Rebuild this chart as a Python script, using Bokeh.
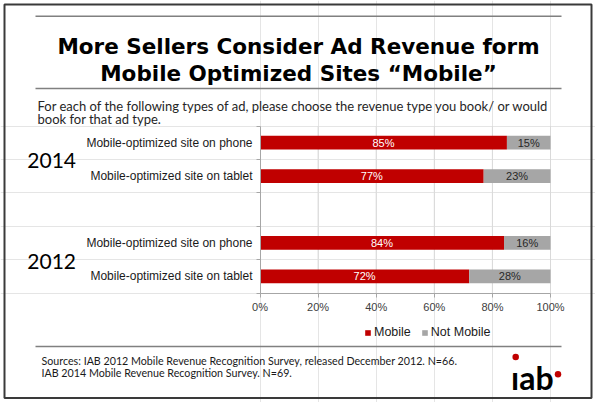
from bokeh.plotting import figure
from bokeh.models import (Range1d, LinearAxis, FixedTicker, PrintfTickFormatter,
                          CustomJSTickFormatter, Legend, LegendItem, ColumnDataSource)
from bokeh.core.properties import value
from bokeh.embed import file_html
from bokeh.resources import INLINE

# ---------------- data ----------------
title_lines = ["More Sellers Consider Ad Revenue form",
               "Mobile Optimized Sites \u201cMobile\u201d"]
subtitle_lines = ["For each of the following types of ad, please choose the revenue type you book/ or would",
                  "book for that ad type."]
years = ["2014", "2012"]
ad_types = ["Mobile-optimized site on phone", "Mobile-optimized site on tablet"]
mobile_2014 = [85, 77]
mobile_2012 = [84, 72]
not_mobile_2014 = [15, 23]
not_mobile_2012 = [16, 28]
x_ticks = [0, 20, 40, 60, 80, 100]
series_names = ["Mobile", "Not Mobile"]
source_lines = ["Sources:  IAB 2012 Mobile Revenue Recognition Survey, released December 2012.  N=66.",
                "IAB 2014 Mobile Revenue Recognition Survey.  N=69."]
logo_text = "\u0131ab"

# ---------------- layout (page pixels) ----------------
W, H = 595, 402
OFF = 0
X0_PX, X100_PX = 259.5, 550.0
Y0_PX, SLOT_PX = 125.5, 33.4
RED, GREY = "#C00000", "#A6A6A6"
px_per_pct = (X100_PX - X0_PX) / 100.0


def X(px):
    return (px - X0_PX) / px_per_pct


def Y(py):
    return (py - Y0_PX) / SLOT_PX


n_per = len(ad_types)
n_slots = len(years) * (n_per + 1) - 1

row_y, row_cat, mob, notm = [], [], [], []
mob_groups = [mobile_2014, mobile_2012]
not_groups = [not_mobile_2014, not_mobile_2012]
for g, yr in enumerate(years):
    for j, cat in enumerate(ad_types):
        row_y.append(g * (n_per + 1) + j + 0.5)
        row_cat.append(cat)
        mob.append(mob_groups[g][j])
        notm.append(not_groups[g][j])

src = ColumnDataSource(dict(
    y=row_y, cat=row_cat, mobile=mob, notm=notm,
    total=[m + n for m, n in zip(mob, notm)],
    mob_mid=[m / 2 for m in mob],
    not_mid=[m + n / 2 for m, n in zip(mob, notm)],
    mob_lbl=[f"{m}%" for m in mob],
    not_lbl=[f"{n}%" for n in notm],
))

p = figure(width=W, height=H, output_backend="svg", toolbar_location=None,
           x_axis_location=None, y_axis_location=None, min_border=0,
           x_range=Range1d((OFF - X0_PX) / px_per_pct, (OFF + W - X0_PX) / px_per_pct),
           y_range=Range1d((OFF + H - Y0_PX) / SLOT_PX, (OFF - Y0_PX) / SLOT_PX))
p.background_fill_color = "white"
p.border_fill_color = "white"
p.outline_line_color = None

# outer frame
p.quad(left=[X(4)], right=[X(591)], top=[Y(4)], bottom=[Y(397.5)],
       fill_color=None, line_color="#3a3a3a", line_width=2)

# gridlines
p.segment(x0=x_ticks[1:], y0=0, x1=x_ticks[1:], y1=n_slots, line_color="#D9D9D9", line_width=1)

# bars
r1 = p.hbar(y="y", left=0, right="mobile", height=0.41, source=src,
            fill_color=RED, line_color=None)
r2 = p.hbar(y="y", left="mobile", right="total", height=0.41, source=src,
            fill_color=GREY, line_color=None)

# value labels
p.text(x="mob_mid", y="y", text="mob_lbl", source=src, text_color="white",
       text_font=value("Liberation Sans"), text_font_size="11px",
       text_align="center", text_baseline="middle")
p.text(x="not_mid", y="y", text="not_lbl", source=src, text_color="#262626",
       text_font=value("Liberation Sans"), text_font_size="11px",
       text_align="center", text_baseline="middle")

# axes
xaxis = LinearAxis(fixed_location=n_slots, bounds=(0, 100),
                   ticker=FixedTicker(ticks=x_ticks),
                   formatter=PrintfTickFormatter(format="%d%%"),
                   axis_line_color="#A6A6A6", major_tick_line_color="#A6A6A6",
                   major_tick_out=4, major_tick_in=0, minor_tick_line_color=None,
                   major_label_text_font="Liberation Sans", major_label_text_font_size="11px",
                   major_label_text_color="#404040", major_label_standoff=4)
p.add_layout(xaxis, "below")

yaxis = LinearAxis(fixed_location=0, bounds=(0, n_slots),
                   ticker=FixedTicker(ticks=list(range(n_slots + 1))),
                   formatter=CustomJSTickFormatter(code="return ''"),
                   axis_line_color="#A6A6A6", major_tick_line_color="#A6A6A6",
                   major_tick_out=4, major_tick_in=0, minor_tick_line_color=None)
p.add_layout(yaxis, "left")

# category labels
p.text(x=0, y="y", text="cat", source=src, x_offset=-7.5,
       text_font=value("Liberation Sans"), text_font_size="12px", text_color="#1a1a1a",
       text_align="right", text_baseline="middle")

# year labels
year_y = [g * (n_per + 1) + n_per / 2 for g in range(len(years))]
p.text(x=[X(75.5)] * len(years), y=year_y, text=years, y_offset=1.5,
       text_font=value("Lato"), text_font_size="21px", text_color="black",
       text_align="right", text_baseline="middle")

# title
p.text(x=[X(298)] * 2, y=[Y(45.7), Y(73.3)], text=title_lines,
       text_font=value("DejaVu Sans"), text_font_style="bold", text_font_size="21.5px",
       text_color="black", text_align="center", text_baseline="alphabetic")

# subtitle
p.text(x=[X(37)] * 2, y=[Y(105), Y(118.5)], text=subtitle_lines,
       text_font=value("Lato"), text_font_size="13px", text_color="#262626",
       text_align="left", text_baseline="alphabetic")

# rules
rule_y = [15.7, 88.0, 346.0]
p.segment(x0=[X(35)] * 3, y0=[Y(v) for v in rule_y], x1=[X(561)] * 3, y1=[Y(v) for v in rule_y],
          line_color="#808080", line_width=1.5)

# sources
p.text(x=[X(41)] * 2, y=[Y(359.5), Y(371.5)], text=source_lines,
       text_font=value("Lato"), text_font_size="10.7px", text_color="#1a1a1a",
       text_align="left", text_baseline="alphabetic")

# logo
p.text(x=[X(510.5)], y=[Y(377)], text=[logo_text],
       text_font=value("Lato"), text_font_style="bold", text_font_size="32px",
       text_color="black", text_align="left", text_baseline="alphabetic")
p.scatter(x=[X(515.2), X(557.5)], y=[Y(356.5), Y(373.7)], size=6.5,
          marker="circle", fill_color=RED, line_color=None)

# legend
legend = Legend(items=[LegendItem(label=series_names[0], renderers=[r1]),
                       LegendItem(label=series_names[1], renderers=[r2])],
                orientation="horizontal", location=(364, 62.8),
                glyph_width=7, glyph_height=7, label_standoff=3, spacing=10,
                padding=0, margin=0, border_line_color=None, background_fill_alpha=0,
                label_text_font="Liberation Sans", label_text_font_size="12.5px",
                label_text_color="#1a1a1a", label_height=7)
p.add_layout(legend)

open("out.html", "w").write(file_html(p, INLINE))
